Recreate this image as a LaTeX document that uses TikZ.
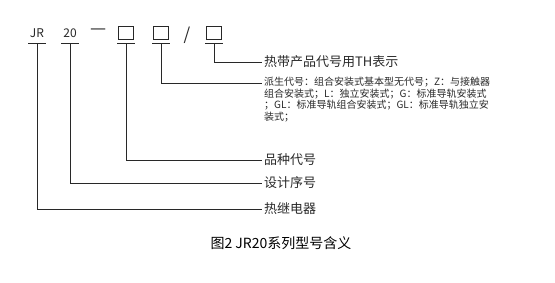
\documentclass[tikz,border=0pt]{standalone}
\usepackage{fontspec}
\newfontfamily\cjk{Noto Sans CJK SC}
\usetikzlibrary{positioning, calc}
\definecolor{lineink}{RGB}{40,40,40}

\begin{document}
\begin{tikzpicture}[x=1pt, y=-1pt,
    code/.style={inner sep=0pt, text=lineink, font=\cjk\fontsize{12}{14}\selectfont},
    slot/.style={draw=lineink, line width=0.7pt, minimum width=15pt,
                 minimum height=13pt, inner sep=0pt},
    lbl/.style={anchor=west, inner xsep=2pt, inner ysep=0pt, text=lineink,
                font=\cjk\fontsize{13}{15}\selectfont},
    link/.style={draw=lineink, line width=0.8pt},
]
\useasboundingbox (0,0) rectangle (555,282);

% model code
\node[code] (jr) at (37,33) {JR};
\node[code] (num) at (70,33) {20};
\node[code, font=\cjk\fontsize{18}{18}\selectfont] (dash) at (99,32) {—};
\node[slot] (b1) at (126,32.5) {};
\node[slot] (b2) at (161,32.5) {};
\node[code, font=\cjk\fontsize{17}{17}\selectfont] (sl) at (187,35) {/};
\node[slot] (b3) at (214,32.5) {};

% underlines
\foreach \n/\x in {jr/37, num/70, b1/126, b2/161, b3/214} {
  \coordinate (\n-u) at (\x,43);
  \draw[link] ([xshift=-9pt]\n-u) -- ([xshift=9pt]\n-u);
}

% meanings
\node[lbl] (th) at (262,62) {热带产品代号用TH表示};
\node[lbl, anchor=north west, align=left,
      font=\cjk\fontsize{10}{11.5}\selectfont] (der) at (262,77)
  {派生代号：组合安装式基本型无代号；Z：与接触器\\
   组合安装式；L：独立安装式；G：标准导轨安装式\\
   ；GL：标准导轨组合安装式；GL：标准导轨独立安\\
   装式；};
\node[lbl] (kind) at (262,160) {品种代号};
\node[lbl] (design) at (262,183) {设计序号};
\node[lbl] (relay) at (262,209) {热继电器};

\draw[link] (b3-u) |- (th.west);
\draw[link] (b2-u) |- ($(der.north west)+(0,6)$);
\draw[link] (b1-u) |- (kind.west);
\draw[link] (num-u) |- (design.west);
\draw[link] (jr-u) |- (relay.west);

\node[font=\cjk\fontsize{14}{16}\selectfont] (cap) at (281,243)
  {图2 JR20系列型号含义};
\end{tikzpicture}
\end{document}
